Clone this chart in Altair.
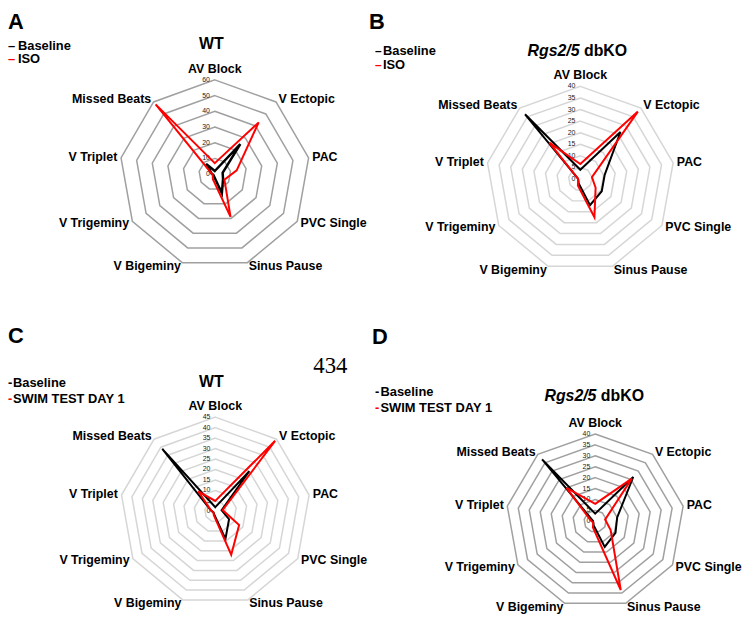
import altair as alt
import pandas as pd

categories = ["AV Block", "V Ectopic", "PAC", "PVC Single", "Sinus Pause",
              "V Bigeminy", "V Trigeminy", "V Triplet", "Missed Beats"]

# Panel A (WT, ISO)
a_baseline = [2, 25, 5, 6, 13, 1.5, 1, 2, 8.5]
a_iso = [7, 43, 14, 7, 29, 3.5, 1.5, 2, 58]
# Panel B (Rgs2/5 dbKO, ISO)
b_baseline = [4, 26.5, 10.5, 10.5, 12, 2, 1, 1, 36.5]
b_iso = [6.5, 38, 5, 7.5, 17.5, 3, 1, 1, 20.5]
# Panel C (WT, swim)
c_baseline = [2, 25, 3, 7.5, 14, 1.5, 1, 2, 39]
c_swim = [5, 44, 3.5, 13, 22, 2, 1, 2, 12.5]
# Panel D (Rgs2/5 dbKO, swim)
d_baseline = [3.5, 26.5, 10, 10.5, 12.5, 2, 1, 1, 37]
d_swim = [8, 25.5, 4.5, 8, 33.5, 3, 1, 2, 20]

a_ticks = [0, 10, 20, 30, 40, 50, 60]
b_ticks = [0, 5, 10, 15, 20, 25, 30, 35, 40]
c_ticks = [0, 5, 10, 15, 20, 25, 30, 35, 40, 45]
d_ticks = [0, 5, 10, 15, 20, 25, 30, 35, 40]

FONT = "Liberation Sans"
N = len(categories)
THETA = f"datum.idx * 2 * PI / {N}"


def text_layer(s, x, y, size=13, color="black", align="left", baseline="middle",
               weight="bold", style="normal", font=FONT):
    return alt.Chart(pd.DataFrame({"t": [s]})).mark_text(
        align=align, baseline=baseline, fontSize=size, fontWeight=weight,
        fontStyle=style, font=font, color=color
    ).encode(x=alt.value(x), y=alt.value(y), text="t:N")


def panel(base, treat, ticks, W, H, cx, cy, Rx, Ry, ring_color, annotations, black_width=2.0):
    vmax = ticks[-1]
    xs = alt.Scale(domain=[-cx / Rx, (W - cx) / Rx], nice=False, zero=False)
    ys = alt.Scale(domain=[-(H - cy) / Ry, cy / Ry], nice=False, zero=False)
    X = alt.X("px:Q", scale=xs, axis=None)
    Y = alt.Y("py:Q", scale=ys, axis=None)

    ring_df = pd.DataFrame([{"level": l, "idx": i} for l in ticks[1:] for i in range(N)])
    rings = (alt.Chart(ring_df)
             .transform_calculate(theta=THETA)
             .transform_calculate(rr=f"datum.level / {vmax}")
             .transform_calculate(px="datum.rr * sin(datum.theta)")
             .transform_calculate(py="datum.rr * cos(datum.theta)")
             .mark_line(interpolate="linear-closed", color=ring_color, strokeWidth=1.5)
             .encode(x=X, y=Y, detail="level:N", order="idx:Q"))

    tick_df = pd.DataFrame({"level": ticks})
    tick_layer = (alt.Chart(tick_df)
                  .transform_calculate(px="0")
                  .transform_calculate(py=f"datum.level / {vmax}")
                  .mark_text(align="right", baseline="middle", dx=-5, fontSize=7,
                             font=FONT, color="#222")
                  .encode(x=X, y=Y, text="level:N"))

    def series(vals, color, width):
        df = pd.DataFrame({"cat": categories, "idx": list(range(N)), "value": vals})
        return (alt.Chart(df)
                .transform_calculate(theta=THETA)
                .transform_calculate(rr=f"datum.value / {vmax}")
                .transform_calculate(px="datum.rr * sin(datum.theta)")
                .transform_calculate(py="datum.rr * cos(datum.theta)")
                .mark_line(interpolate="linear-closed", color=color, strokeWidth=width)
                .encode(x=X, y=Y, order="idx:Q"))

    lab_df = pd.DataFrame({"cat": categories, "idx": list(range(N))})
    lab = (alt.Chart(lab_df)
           .transform_calculate(theta=THETA)
           .transform_calculate(rl="datum.idx == 0 ? 1.12 : 1.04")
           .transform_calculate(px="datum.rl * sin(datum.theta)")
           .transform_calculate(py="datum.rl * cos(datum.theta)"))
    lab_kw = dict(baseline="middle", fontSize=12.5, fontWeight="bold", font=FONT, color="black")
    lab_top = lab.transform_filter("datum.idx == 0").mark_text(align="center", **lab_kw).encode(x=X, y=Y, text="cat:N")
    lab_right = lab.transform_filter("datum.idx >= 1 && datum.idx <= 4").mark_text(align="left", **lab_kw).encode(x=X, y=Y, text="cat:N")
    lab_left = lab.transform_filter("datum.idx >= 5").mark_text(align="right", **lab_kw).encode(x=X, y=Y, text="cat:N")

    layers = [rings, tick_layer, series(base, "black", black_width), series(treat, "#ff0000", 2.0),
              lab_top, lab_right, lab_left] + annotations
    return alt.layer(*layers).properties(width=W, height=H)


def legend(dash, dash_size, x_dash, x_text, y0, dy, second):
    return [
        text_layer(dash, x_dash, y0, size=dash_size, color="black"),
        text_layer("Baseline", x_text, y0),
        text_layer(dash, x_dash, y0 + dy, size=dash_size, color="#ff0000"),
        text_layer(second, x_text, y0 + dy),
    ]


def kotitle(xc, y):
    # "Rgs2/5" italic + "dbKO" upright, centered on xc
    split = xc + 2.25
    return [
        text_layer("Rgs2/5", split, y, size=16, align="right", style="italic"),
        text_layer("dbKO", split + 4.4, y, size=16, align="left"),
    ]


ann_a = ([text_layer("A", 0, 17.6, size=22, baseline="alphabetic"),
          text_layer("WT", 205, 33, size=16, align="center")]
         + legend("\u2013", 13, 0, 10, 35, 12.5, "ISO"))
ann_b = ([text_layer("B", 0, 17.6, size=22, baseline="alphabetic")]
         + kotitle(210, 40)
         + legend("\u2013", 12, 6, 14, 40, 14, "ISO"))
ann_c = ([text_layer("C", 0, 32, size=22, baseline="alphabetic"),
          text_layer("WT", 205, 72, size=16, align="center"),
          text_layer("434", 325, 62, size=23, align="center", baseline="alphabetic",
                     weight="normal", font="Liberation Serif")]
         + legend("-", 13, 0, 5, 73, 16, "SWIM TEST DAY 1"))
ann_d = ([text_layer("D", 3, 33, size=22, baseline="alphabetic")]
         + kotitle(227, 86)
         + legend("-", 13, 6, 11.5, 82, 16, "SWIM TEST DAY 1"))

pA = panel(a_baseline, a_iso, a_ticks, 364, 302, 208.5, 164, 96, 95, "#a0a0a0", ann_a, black_width=2.5)
pB = panel(b_baseline, b_iso, b_ticks, 366, 302, 213, 169, 95, 93.5, "#d6d6d6", ann_b)
pC = panel(c_baseline, c_swim, c_ticks, 364, 298, 209, 202, 96, 95, "#d6d6d6", ann_c)
pD = panel(d_baseline, d_swim, d_ticks, 366, 298, 228, 212, 90, 88, "#a0a0a0", ann_d)

chart = (alt.concat(pA, pB, pC, pD, columns=2, spacing=0, bounds="flush")
         .properties(padding=0, background="white")
         .configure_view(stroke=None))

chart.save("out.html", embed_options={"renderer": "svg", "actions": False})
